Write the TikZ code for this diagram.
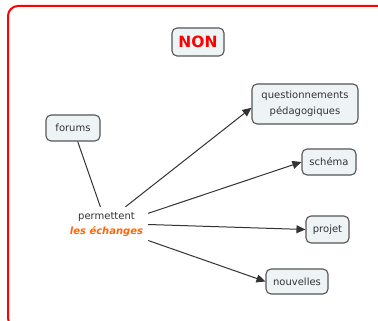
\documentclass[tikz,border=0pt]{standalone}
\usepackage{fontspec}
\setmainfont{DejaVu Sans}
\usetikzlibrary{arrows.meta}
\definecolor{boxfill}{HTML}{EEF3F6}
\definecolor{boxline}{HTML}{555555}
\definecolor{txt}{HTML}{333333}
\definecolor{accent}{HTML}{FF6600}
\begin{document}
\begin{tikzpicture}[x=1pt,y=-1pt,
  concept/.style={draw=boxline,line width=1.1pt,fill=boxfill,rounded corners=5pt,
    text=txt,font=\fontsize{10}{12}\selectfont,inner xsep=0pt,inner ysep=0pt,align=center},
  link/.style={draw=txt,line width=1pt},
  arrowlink/.style={link,-{Triangle[length=9pt,width=8pt]}}]
\useasboundingbox (0,0) rectangle (378,321);
\clip (0,0) rectangle (378,321);
\fill[white] (0,0) rectangle (378,321);
% outer frame
\draw[red,line width=2pt,rounded corners=10pt] (8,6) rectangle (420,328);
% concepts
\node[concept,minimum width=52pt,minimum height=28pt,text=red,
      font=\fontsize{15.5}{18}\selectfont\bfseries] (non) at (198,42) {NON};
\node[concept,minimum width=106pt,minimum height=40pt,
      font=\fontsize{10}{16}\selectfont] (quest) at (305,104)
  {questionnements\\pédagogiques};
\node[concept,minimum width=54pt,minimum height=26pt] (forums) at (73,128) {forums};
\node[concept,minimum width=54pt,minimum height=26pt] (schema) at (329,162) {schéma};
\node[concept,minimum width=43pt,minimum height=27pt] (projet) at (327.5,229.5) {projet};
\node[concept,minimum width=62pt,minimum height=25pt] (nouv) at (297,281.5) {nouvelles};
% linking phrase
\node[align=center,inner sep=0pt,minimum width=83pt,minimum height=35pt,
      font=\fontsize{10}{15}\selectfont,text=txt] (src) at (106.5,224.5)
  {permettent\\{\color{accent}\bfseries\itshape les échanges}};
% connectors
\draw[link] (forums) -- (src);
\draw[arrowlink] (src.43) -- (quest.184);
\draw[arrowlink] (src.15) -- (schema.west);
\draw[arrowlink] (src.east) -- (projet.west);
\draw[arrowlink] (src.-21) -- (nouv.west);
\end{tikzpicture}
\end{document}
